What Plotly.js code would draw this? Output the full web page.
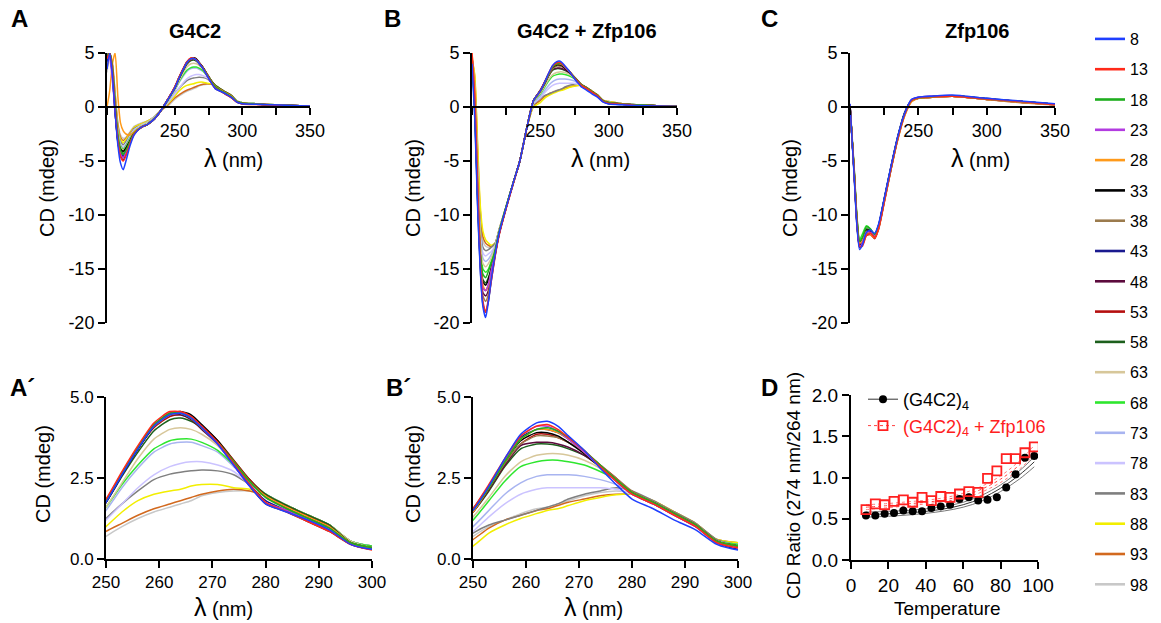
<!DOCTYPE html>
<html><head><meta charset="utf-8">
<script src="https://cdn.plot.ly/plotly-3.0.1.min.js"></script>
<style>html,body{margin:0;padding:0;background:#fff}#chart{width:1161px;height:623px}</style>
</head><body><div id="chart"></div>
<script>
// ---------- data ----------
const TEMPS = ['8','13','18','23','28','33','38','43','48','53','58','63','68','73','78','83','88','93','98'];
const COLORS = ['#1f3fff','#ff2a1a','#1fae1f','#b23be0','#ff9a1a','#000000','#9b7b4d','#1a1a8f','#5c0a3d','#b50f0f','#1c5f1c','#d7c79a','#2ee62e','#a8b4f0','#cbc3ff','#7f7f7f','#f2ee00','#d2691e','#c8c8c8'];

// wavelengths (nm) for panels A/A' and B/B'
const WL_AB = [200,202,204,206,208,210,212,214,217,220,225,230,235,240,245,250,253,256,259,262,264,266,268,271,274,277,280,284,288,292,296,300,310,320,335,350];

// G4C2 CD (mdeg), one row per temperature
const CD_G4C2 = [
 [3.5,5,3,-0.5,-3.5,-5.2,-5.8,-5,-3.6,-2.6,-1.9,-1.6,-1.1,-0.3,0.7, 1.75,2.6,3.4,4.1,4.45,4.5,4.35,4.05,3.55,2.9,2.25,1.7,1.45,1.2,0.9,0.45,0.3, 0.25,0.2,0.15,0.1],
 [4.5,5,3.5,0,-3,-4.6,-5.0,-4.5,-3.4,-2.5,-1.9,-1.6,-1.1,-0.3,0.75, 1.85,2.7,3.5,4.2,4.55,4.55,4.4,4.1,3.6,2.95,2.3,1.75,1.45,1.15,0.85,0.45,0.28, 0.22,0.18,0.12,0.08],
 [4.8,5,3.8,0.5,-2.6,-4.0,-4.4,-4.0,-3.2,-2.4,-1.9,-1.6,-1.1,-0.3,0.7, 1.8,2.65,3.45,4.15,4.5,4.5,4.35,4.05,3.6,3.0,2.4,1.9,1.55,1.25,0.95,0.5,0.35, 0.28,0.2,0.15,0.08],
 [5,4.5,2.5,-0.5,-3,-4.3,-4.7,-4.2,-3.3,-2.5,-1.9,-1.6,-1.1,-0.3,0.7, 1.8,2.65,3.45,4.15,4.5,4.5,4.35,4.05,3.55,2.9,2.25,1.75,1.5,1.2,0.9,0.45,0.3, 0.25,0.2,0.15,0.1],
 [0,1.5,4,5,1,-1.5,-2.2,-2.5,-2.6,-2.3,-1.9,-1.6,-1.1,-0.3,0.7, 1.8,2.65,3.45,4.1,4.45,4.5,4.35,4.05,3.6,3.0,2.4,1.95,1.6,1.3,1.0,0.5,0.35, 0.3,0.22,0.15,0.1],
 [4.7,4.8,3,-0.5,-3,-3.9,-4.1,-3.8,-3.1,-2.4,-1.9,-1.6,-1.1,-0.3,0.7, 1.75,2.6,3.4,4.1,4.5,4.55,4.45,4.15,3.65,3.0,2.4,1.95,1.6,1.3,1.0,0.5,0.35, 0.28,0.2,0.15,0.1],
 [4.5,5,3.5,0.2,-2.8,-3.8,-4.1,-3.8,-3.1,-2.4,-1.9,-1.6,-1.1,-0.3,0.7, 1.8,2.65,3.45,4.1,4.45,4.5,4.35,4.05,3.6,3.0,2.4,1.9,1.55,1.25,0.95,0.5,0.35, 0.28,0.2,0.15,0.1],
 [4.2,4.9,3.2,-0.2,-3.2,-4.2,-4.5,-4.1,-3.2,-2.4,-1.9,-1.6,-1.1,-0.3,0.7, 1.75,2.6,3.4,4.1,4.45,4.5,4.4,4.1,3.6,2.95,2.3,1.8,1.5,1.2,0.9,0.45,0.3, 0.25,0.2,0.15,0.1],
 [5,4.8,2.8,-0.5,-3.2,-4.5,-4.9,-4.4,-3.3,-2.5,-1.9,-1.6,-1.1,-0.3,0.7, 1.8,2.65,3.45,4.1,4.45,4.45,4.3,4.0,3.55,2.9,2.25,1.7,1.45,1.15,0.85,0.45,0.3, 0.25,0.2,0.15,0.1],
 [4.8,5,3.3,0,-3,-4.2,-4.6,-4.2,-3.3,-2.4,-1.9,-1.6,-1.1,-0.3,0.7, 1.75,2.6,3.4,4.05,4.4,4.45,4.35,4.1,3.65,3.05,2.45,1.95,1.6,1.3,1.0,0.5,0.35, 0.28,0.2,0.15,0.1],
 [4.6,5,3.4,0,-2.9,-4.0,-4.3,-4.0,-3.2,-2.4,-1.9,-1.6,-1.1,-0.3,0.7, 1.75,2.55,3.3,3.95,4.3,4.35,4.25,4.05,3.65,3.05,2.45,2.0,1.65,1.35,1.05,0.5,0.35, 0.28,0.2,0.15,0.1],
 [4.5,5,3.5,0.3,-2.7,-3.7,-4.0,-3.7,-3.0,-2.3,-1.8,-1.5,-1.0,-0.3,0.6, 1.6,2.35,3.1,3.7,4.0,4.05,4.0,3.85,3.5,2.95,2.4,2.0,1.65,1.35,1.05,0.55,0.35, 0.3,0.22,0.15,0.1],
 [4.5,5,3.6,0.5,-2.5,-3.6,-3.9,-3.6,-2.9,-2.3,-1.8,-1.5,-1.0,-0.3,0.6, 1.6,2.3,2.9,3.4,3.65,3.7,3.7,3.6,3.35,2.9,2.4,2.0,1.65,1.35,1.05,0.55,0.4, 0.3,0.22,0.15,0.1],
 [4.4,5,3.6,0.5,-2.4,-3.5,-3.8,-3.5,-2.8,-2.2,-1.8,-1.5,-1.0,-0.3,0.5, 1.5,2.2,2.8,3.3,3.55,3.6,3.6,3.5,3.3,2.85,2.35,2.0,1.65,1.35,1.05,0.55,0.4, 0.3,0.22,0.15,0.1],
 [4.3,5,3.7,0.6,-2.3,-3.4,-3.7,-3.4,-2.7,-2.1,-1.7,-1.4,-0.9,-0.3,0.4, 1.2,1.7,2.2,2.6,2.85,2.95,3.0,3.0,2.9,2.7,2.3,1.95,1.6,1.3,1.0,0.55,0.4, 0.3,0.22,0.15,0.1],
 [4.2,5,3.8,0.8,-2.1,-3.2,-3.5,-3.2,-2.6,-2.0,-1.7,-1.4,-0.9,-0.3,0.4, 1.25,1.7,2.1,2.45,2.62,2.68,2.72,2.75,2.72,2.6,2.3,2.0,1.65,1.35,1.05,0.55,0.4, 0.3,0.22,0.15,0.1],
 [4,5,3.8,1,-1.9,-3.0,-3.3,-3.0,-2.5,-1.9,-1.6,-1.3,-0.9,-0.3,0.3, 1.0,1.45,1.8,2.0,2.1,2.15,2.25,2.3,2.3,2.2,2.15,1.95,1.65,1.35,1.05,0.55,0.4, 0.3,0.22,0.15,0.1],
 [3.5,5,4,1.2,-1.6,-2.8,-3.1,-2.9,-2.4,-1.9,-1.6,-1.3,-0.9,-0.3,0.2, 0.85,1.1,1.35,1.55,1.7,1.8,1.9,2.0,2.1,2.15,2.1,1.95,1.65,1.35,1.05,0.55,0.4, 0.3,0.22,0.15,0.1],
 [3.2,4.8,4,1.4,-1.4,-2.6,-2.9,-2.8,-2.3,-1.8,-1.5,-1.3,-0.9,-0.3,0.1, 0.7,1.0,1.25,1.45,1.6,1.7,1.8,1.95,2.05,2.1,2.1,1.95,1.65,1.35,1.05,0.55,0.4, 0.3,0.22,0.15,0.1]
];

// G4C2 + Zfp106 CD (mdeg)
const CD_G4C2_ZFP = [
 [4,-1,-9,-15,-18.5,-19.5,-18,-16,-13.6,-11.6,-9.3,-7.1,-5.0,-2.0,0.6, 1.5,2.25,3.1,3.85,4.2,4.25,4.1,3.8,3.35,2.8,2.3,1.85,1.55,1.2,0.9,0.45,0.28, 0.2,0.15,0.1,0.05],
 [5,1,-7,-14,-18,-19,-17.8,-16.2,-13.8,-11.8,-9.4,-7.2,-5.0,-2.0,0.6, 1.55,2.3,3.1,3.8,4.1,4.15,4.0,3.75,3.35,2.85,2.4,2.0,1.7,1.35,1.0,0.5,0.35, 0.25,0.15,0.1,0.05],
 [4.5,0,-8,-13.5,-15.5,-15.8,-15.2,-14.5,-13.2,-11.5,-9.2,-7.1,-5.0,-2.0,0.6, 1.5,2.2,3.0,3.7,4.0,4.05,3.95,3.75,3.35,2.9,2.45,2.05,1.75,1.4,1.05,0.55,0.4, 0.28,0.2,0.12,0.06],
 [4.8,0.5,-7.5,-14,-16.8,-17,-16.4,-15.2,-13.4,-11.6,-9.3,-7.1,-5.0,-2.0,0.6, 1.5,2.25,3.05,3.8,4.1,4.1,3.95,3.7,3.3,2.85,2.4,2.0,1.7,1.35,1.0,0.5,0.35, 0.25,0.18,0.12,0.06],
 [5,2,-6,-13,-16.5,-17,-16.5,-15.3,-13.5,-11.6,-9.3,-7.1,-5.0,-2.0,0.6, 1.45,2.2,3.0,3.7,4.0,4.0,3.9,3.7,3.3,2.85,2.45,2.05,1.75,1.4,1.05,0.55,0.4, 0.28,0.2,0.12,0.06],
 [4.6,0.5,-7.5,-13.5,-16.2,-16.5,-16,-15,-13.4,-11.6,-9.3,-7.1,-5.0,-2.0,0.6, 1.55,2.25,3.0,3.65,3.9,3.9,3.8,3.6,3.25,2.85,2.45,2.05,1.75,1.4,1.05,0.55,0.4, 0.28,0.2,0.12,0.06],
 [4.7,0.8,-7.5,-14,-17.5,-18,-17.3,-15.8,-13.6,-11.7,-9.3,-7.1,-5.0,-2.0,0.6, 1.5,2.2,2.95,3.55,3.8,3.8,3.75,3.6,3.3,2.9,2.5,2.1,1.75,1.4,1.05,0.55,0.4, 0.3,0.2,0.12,0.06],
 [4.4,-0.5,-8.5,-14.8,-18.3,-19,-18,-16.2,-13.7,-11.7,-9.3,-7.1,-5.0,-2.0,0.6, 1.5,2.25,3.05,3.75,4.0,4.0,3.9,3.7,3.3,2.85,2.4,2.0,1.7,1.35,1.0,0.5,0.3, 0.22,0.15,0.1,0.05],
 [4.5,0,-8,-14.2,-17.2,-17.5,-17,-15.6,-13.6,-11.7,-9.3,-7.1,-5.0,-2.0,0.6, 1.45,2.15,2.9,3.5,3.6,3.6,3.55,3.45,3.2,2.85,2.45,2.05,1.75,1.4,1.05,0.55,0.4, 0.28,0.2,0.12,0.06],
 [4.6,0.5,-7.5,-14,-16.7,-17,-16.5,-15.3,-13.5,-11.6,-9.3,-7.1,-5.0,-2.0,0.6, 1.45,2.15,2.9,3.55,3.85,3.85,3.75,3.6,3.3,2.9,2.5,2.05,1.75,1.4,1.05,0.55,0.4, 0.28,0.2,0.12,0.06],
 [4.6,0.8,-7,-13.5,-16,-16.3,-15.8,-15,-13.4,-11.6,-9.3,-7.1,-5.0,-2.0,0.6, 1.45,2.1,2.85,3.4,3.55,3.55,3.5,3.4,3.2,2.85,2.45,2.05,1.75,1.4,1.05,0.55,0.4, 0.28,0.2,0.12,0.06],
 [4.6,1,-6.5,-12.5,-14.5,-14.8,-14.5,-14,-13,-11.5,-9.2,-7.1,-5.0,-2.0,0.5, 1.3,1.9,2.55,3.0,3.2,3.25,3.25,3.2,3.05,2.8,2.45,2.05,1.75,1.4,1.05,0.55,0.4, 0.3,0.2,0.12,0.06],
 [4.6,1.2,-6.5,-12.5,-15,-15.3,-15,-14.3,-13.1,-11.5,-9.2,-7.1,-5.0,-2.0,0.5, 1.2,1.8,2.4,2.85,3.0,3.05,3.05,3.0,2.9,2.7,2.45,2.05,1.75,1.4,1.05,0.55,0.45, 0.3,0.2,0.12,0.06],
 [4.5,1.5,-6,-12,-14,-14.3,-14.1,-13.7,-12.9,-11.4,-9.2,-7.1,-5.0,-2.0,0.4, 1.0,1.5,2.0,2.35,2.55,2.6,2.6,2.6,2.55,2.45,2.3,2.05,1.75,1.4,1.05,0.55,0.45, 0.3,0.2,0.12,0.06],
 [4.5,1.8,-5.5,-11.5,-13.5,-13.8,-13.6,-13.4,-12.8,-11.4,-9.2,-7.1,-5.0,-2.0,0.3, 0.85,1.3,1.7,2.0,2.15,2.2,2.2,2.2,2.2,2.2,2.15,2.0,1.75,1.4,1.05,0.55,0.45, 0.3,0.2,0.12,0.06],
 [4.5,2,-5,-11,-13,-13.3,-13.2,-13,-12.6,-11.3,-9.2,-7.1,-5.0,-2.0,0.2, 0.8,1.05,1.2,1.35,1.5,1.6,1.7,1.85,2.0,2.1,2.2,2.1,1.8,1.45,1.1,0.6,0.45, 0.3,0.2,0.12,0.06],
 [4.5,3,-3,-9,-11.5,-12.3,-12.6,-12.8,-12.6,-11.3,-9.2,-7.1,-5.0,-2.0,0.0, 0.4,0.8,1.05,1.25,1.4,1.5,1.55,1.65,1.8,1.9,1.98,2.0,1.8,1.45,1.1,0.6,0.5, 0.3,0.2,0.12,0.06],
 [4.5,2.8,-3.5,-9.5,-12,-12.6,-12.8,-12.9,-12.6,-11.3,-9.2,-7.1,-5.0,-2.0,0.1, 0.6,0.95,1.2,1.35,1.5,1.55,1.65,1.75,1.85,1.95,2.0,2.0,1.8,1.45,1.1,0.6,0.5, 0.3,0.2,0.12,0.06],
 [4.5,2.5,-4,-10,-12.4,-12.9,-13,-13,-12.7,-11.3,-9.2,-7.1,-5.0,-2.0,0.1, 0.7,1.0,1.2,1.4,1.55,1.6,1.7,1.8,1.95,2.05,2.1,2.05,1.8,1.45,1.1,0.6,0.5, 0.3,0.2,0.12,0.06]
];

// wavelengths (nm) for panel C
const WL_C = [200,203,205,207,209,212,215,218,221,225,230,235,240,245,250,260,275,300,325,350];
// Zfp106 CD (mdeg)
const CD_ZFP = [
 [0.3,-6.3,-10.9,-13.2,-12.8,-11.6,-11.4,-11.7,-10.8,-8.5,-5.5,-2.7,-0.6,0.7,0.9,1.0,1.1,0.8,0.55,0.3],
 [0.2,-5.9,-10.5,-12.9,-12.9,-11.9,-11.7,-12.1,-11.2,-8.8,-5.7,-2.9,-0.7,0.6,0.85,0.95,1.0,0.75,0.5,0.2],
 [0.1,-5.8,-10.2,-12.4,-12.1,-11.1,-11.3,-11.8,-11.0,-8.6,-5.6,-2.8,-0.6,0.6,0.85,0.95,1.05,0.75,0.5,0.25],
 [0,-6.1,-10.6,-12.9,-12.6,-11.6,-11.6,-11.9,-11.0,-8.6,-5.6,-2.8,-0.6,0.65,0.9,1.0,1.05,0.75,0.5,0.25],
 [0,-5.7,-10.3,-12.6,-12.4,-11.5,-11.8,-12.1,-11.2,-8.8,-5.8,-3.0,-0.8,0.5,0.8,0.9,1.0,0.7,0.45,0.2],
 [0.2,-6.0,-10.6,-12.8,-12.5,-11.4,-11.5,-11.9,-11.0,-8.6,-5.6,-2.8,-0.6,0.6,0.85,0.95,1.05,0.75,0.5,0.25],
 [0.1,-5.9,-10.4,-12.7,-12.6,-11.7,-11.7,-12.0,-11.1,-8.7,-5.7,-2.9,-0.7,0.55,0.8,0.9,1.0,0.7,0.45,0.2],
 [0.2,-6.2,-10.8,-13.0,-12.7,-11.6,-11.5,-11.8,-10.9,-8.5,-5.5,-2.7,-0.5,0.65,0.9,1.0,1.05,0.8,0.5,0.25],
 [0.1,-6.0,-10.5,-12.8,-12.6,-11.6,-11.6,-11.9,-11.0,-8.6,-5.6,-2.8,-0.6,0.6,0.85,0.95,1.05,0.75,0.5,0.25],
 [0.2,-5.9,-10.4,-12.8,-12.8,-11.9,-11.8,-12.2,-11.3,-8.9,-5.8,-2.9,-0.7,0.55,0.8,0.9,1.0,0.7,0.45,0.2],
 [0,-5.8,-10.3,-12.5,-12.3,-11.3,-11.4,-11.8,-11.0,-8.6,-5.6,-2.8,-0.6,0.6,0.85,0.95,1.05,0.75,0.5,0.25],
 [0.1,-5.9,-10.4,-12.6,-12.3,-11.4,-11.5,-11.9,-11.0,-8.7,-5.7,-2.9,-0.7,0.55,0.8,0.9,1.0,0.7,0.45,0.2],
 [0,-5.6,-10.0,-12.3,-11.8,-11.0,-11.3,-11.9,-11.1,-8.7,-5.7,-2.8,-0.6,0.6,0.85,0.95,1.0,0.75,0.5,0.25],
 [0.1,-6.0,-10.5,-12.7,-12.4,-11.5,-11.6,-11.9,-11.0,-8.6,-5.6,-2.8,-0.6,0.6,0.85,0.95,1.05,0.75,0.5,0.25],
 [0.1,-6.0,-10.5,-12.8,-12.5,-11.5,-11.5,-11.8,-10.9,-8.5,-5.5,-2.7,-0.6,0.6,0.85,0.95,1.05,0.75,0.5,0.25],
 [0.2,-5.5,-10.0,-12.4,-12.3,-11.6,-11.7,-12.0,-11.1,-8.7,-5.7,-2.9,-0.7,0.55,0.8,0.9,1.0,0.7,0.45,0.2],
 [0,-5.8,-10.3,-12.6,-12.4,-11.5,-11.6,-11.9,-11.0,-8.6,-5.6,-2.8,-0.6,0.6,0.85,0.95,1.05,0.75,0.5,0.25],
 [0.1,-5.9,-10.4,-12.9,-12.7,-11.7,-11.8,-12.1,-11.2,-8.8,-5.8,-3.0,-0.8,0.5,0.8,0.9,1.0,0.7,0.4,0.2],
 [0,-5.8,-10.3,-12.6,-12.4,-11.5,-11.6,-12.0,-11.1,-8.7,-5.7,-2.9,-0.7,0.55,0.8,0.9,1.0,0.7,0.45,0.2]
];

// panel D: CD ratio (274 nm / 264 nm) vs temperature
const TEMP_D = [8,13,18,23,28,33,38,43,48,53,58,63,68,73,78,83,88,93,98];
const RATIO_G4C2 = [0.54,0.54,0.56,0.57,0.60,0.59,0.59,0.63,0.65,0.67,0.74,0.76,0.72,0.73,0.76,0.88,1.04,1.24,1.26];
const RATIO_G4C2_ZFP = [0.61,0.68,0.67,0.71,0.73,0.70,0.76,0.72,0.77,0.76,0.80,0.83,0.82,0.99,1.08,1.23,1.23,1.30,1.37];
const FIT_T = [8,20,30,40,50,60,70,80,90,98];
const FIT_G4C2 = [0.55,0.56,0.57,0.59,0.62,0.67,0.75,0.87,1.03,1.19];
const FIT_G4C2_LO = [0.52,0.53,0.545,0.565,0.595,0.64,0.715,0.83,0.98,1.13];
const FIT_G4C2_HI = [0.58,0.59,0.60,0.62,0.65,0.70,0.785,0.91,1.08,1.25];
const FIT_ZFP = [0.64,0.66,0.68,0.70,0.73,0.78,0.86,0.98,1.15,1.33];
const FIT_ZFP_LO = [0.61,0.635,0.655,0.68,0.71,0.75,0.825,0.94,1.10,1.27];
const FIT_ZFP_HI = [0.67,0.685,0.705,0.725,0.755,0.81,0.895,1.02,1.20,1.39];

// ---------- layout helpers ----------
const W = 1161, H = 623;
const fx = p => p / W;
const fy = p => 1 - p / H;
const FONT = 'Arial, "Liberation Sans", Helvetica, sans-serif';

const traces = [];
// legend entries (one per temperature)
TEMPS.forEach((t, i) => traces.push({
  x: [null], y: [null], type: 'scatter', mode: 'lines', name: t, legendgroup: t,
  line: {color: COLORS[i], width: 2.6}, xaxis: 'x', yaxis: 'y', hoverinfo: 'skip'
}));
// spectra, high temperatures drawn first so low temperatures sit on top
for (let i = TEMPS.length - 1; i >= 0; i--) {
  const base = {type: 'scatter', mode: 'lines', legendgroup: TEMPS[i], showlegend: false,
    name: TEMPS[i] + ' \u00B0C', line: {color: COLORS[i], width: 1.5, shape: 'spline', smoothing: 0.6}};
  traces.push(Object.assign({}, base, {x: WL_AB, y: CD_G4C2[i], xaxis: 'x', yaxis: 'y'}));
  traces.push(Object.assign({}, base, {x: WL_AB, y: CD_G4C2_ZFP[i], xaxis: 'x2', yaxis: 'y2'}));
  traces.push(Object.assign({}, base, {x: WL_C, y: CD_ZFP[i], xaxis: 'x3', yaxis: 'y3'}));
  traces.push(Object.assign({}, base, {x: WL_AB, y: CD_G4C2[i], xaxis: 'x4', yaxis: 'y4'}));
  traces.push(Object.assign({}, base, {x: WL_AB, y: CD_G4C2_ZFP[i], xaxis: 'x5', yaxis: 'y5'}));
}
// panel D fits
const fitLine = (y, color, width, dash) => ({x: FIT_T, y: y, type: 'scatter', mode: 'lines', showlegend: false,
  hoverinfo: 'skip', line: {color: color, width: width, dash: dash, shape: 'spline'}, xaxis: 'x6', yaxis: 'y6'});
traces.push(fitLine(FIT_G4C2_LO, '#666', 0.9, 'solid'));
traces.push(fitLine(FIT_G4C2_HI, '#666', 0.9, 'solid'));
traces.push(fitLine(FIT_G4C2, '#333', 1, 'solid'));
traces.push(fitLine(FIT_ZFP_LO, '#ff7a7a', 1, 'dot'));
traces.push(fitLine(FIT_ZFP_HI, '#ff7a7a', 1, 'dot'));
traces.push(fitLine(FIT_ZFP, '#ff4040', 1, 'dot'));
// panel D legend entries (symbol with fit line)
traces.push({x: [null], y: [null], type: 'scatter', mode: 'lines+markers', name: '(G4C2)<sub>4</sub>',
  legend: 'legend2', legendgroup: 'dG', line: {color: '#333', width: 1}, marker: {symbol: 'circle', size: 8, color: '#000'},
  xaxis: 'x6', yaxis: 'y6', hoverinfo: 'skip'});
traces.push({x: [null], y: [null], type: 'scatter', mode: 'lines+markers',
  name: '<span style="color:#ff2020">(G4C2)<sub>4</sub> + Zfp106</span>', legend: 'legend2', legendgroup: 'dZ',
  line: {color: '#ff4040', width: 1, dash: 'dot'}, marker: {symbol: 'square-open', size: 9, color: '#ff2020', line: {width: 1.8}},
  xaxis: 'x6', yaxis: 'y6', hoverinfo: 'skip'});
traces.push({x: TEMP_D, y: RATIO_G4C2, type: 'scatter', mode: 'markers', name: '(G4C2)4', showlegend: false,
  legendgroup: 'dG', marker: {symbol: 'circle', size: 8, color: '#000'}, xaxis: 'x6', yaxis: 'y6'});
traces.push({x: TEMP_D, y: RATIO_G4C2_ZFP, type: 'scatter', mode: 'markers', name: '(G4C2)4 + Zfp106', showlegend: false,
  legendgroup: 'dZ', marker: {symbol: 'square-open', size: 9, color: '#ff2020', line: {width: 1.8}}, xaxis: 'x6', yaxis: 'y6'});

const axBase = {showgrid: false, zeroline: false, showline: true, linecolor: '#000', linewidth: 2,
  ticks: 'outside', ticklen: 7, tickwidth: 2, tickcolor: '#000', fixedrange: true,
  tickfont: {family: FONT, size: 18, color: '#000'}};
const ax = o => Object.assign({}, axBase, o);

const wlTicks = {tickmode: 'array', tickvals: [200,225,250,275,300,325,350], ticktext: ['','','250','','300','','350']};
const cdTicks = {tickmode: 'array', tickvals: [-20,-15,-10,-5,0,5], ticktext: ['-20','-15','-10','-5','0','5']};
const topY = [fy(323), fy(53)];
const botY = [fy(559), fy(397)];
const zeroPos = fy(107);
const zoomTick = {tickfont: {family: FONT, size: 17, color: '#000'}};

const layout = {
  width: W, height: H, margin: {l: 0, r: 0, t: 0, b: 0},
  paper_bgcolor: '#fff', plot_bgcolor: 'rgba(0,0,0,0)',
  font: {family: FONT, color: '#000'},
  showlegend: true,
  xaxis: ax(Object.assign({domain: [fx(107), fx(310)], range: [200, 350], anchor: 'free', position: zeroPos}, wlTicks)),
  yaxis: ax(Object.assign({domain: topY, range: [-20, 5], anchor: 'x'}, cdTicks)),
  xaxis2: ax(Object.assign({domain: [fx(472), fx(677)], range: [200, 350], anchor: 'free', position: zeroPos}, wlTicks)),
  yaxis2: ax(Object.assign({domain: topY, range: [-20, 5], anchor: 'x2'}, cdTicks)),
  xaxis3: ax(Object.assign({domain: [fx(850), fx(1055)], range: [200, 350], anchor: 'free', position: zeroPos}, wlTicks)),
  yaxis3: ax(Object.assign({domain: topY, range: [-20, 5], anchor: 'x3'}, cdTicks)),
  xaxis4: ax(Object.assign({domain: [fx(106), fx(372)], range: [250, 300], anchor: 'y4', tickmode: 'linear', tick0: 250, dtick: 10}, zoomTick)),
  yaxis4: ax(Object.assign({domain: botY, range: [0, 5], anchor: 'x4', tickmode: 'array', tickvals: [0, 2.5, 5], ticktext: ['0.0','2.5','5.0']}, zoomTick)),
  xaxis5: ax(Object.assign({domain: [fx(473), fx(738)], range: [250, 300], anchor: 'y5', tickmode: 'linear', tick0: 250, dtick: 10}, zoomTick)),
  yaxis5: ax(Object.assign({domain: botY, range: [0, 5], anchor: 'x5', tickmode: 'array', tickvals: [0, 2.5, 5], ticktext: ['0.0','2.5','5.0']}, zoomTick)),
  xaxis6: ax({domain: [fx(851), fx(1038)], range: [0, 100], anchor: 'y6', tickmode: 'linear', tick0: 0, dtick: 20,
    tickfont: {family: FONT, size: 19, color: '#000'}}),
  yaxis6: ax({domain: [fy(560), fy(395)], range: [0, 2], anchor: 'x6', tickmode: 'array', tickvals: [0, 0.5, 1, 1.5, 2],
    ticktext: ['0.0','0.5','1.0','1.5','2.0'], tickfont: {family: FONT, size: 19, color: '#000'}}),
  legend: {x: fx(1090), xanchor: 'left', y: fy(22), yanchor: 'top', traceorder: 'grouped', tracegroupgap: 6.5,
    itemwidth: 30, bgcolor: 'rgba(0,0,0,0)', font: {family: FONT, size: 16, color: '#000'}, itemclick: false, itemdoubleclick: false},
  legend2: {x: fx(863), xanchor: 'left', y: fy(381), yanchor: 'top', bgcolor: 'rgba(0,0,0,0)', tracegroupgap: 0,
    font: {family: FONT, size: 18, color: '#000'}, itemclick: false, itemdoubleclick: false},
  annotations: []
};

const A = layout.annotations;
const note = (text, px, py, o) => A.push(Object.assign({text: text, x: fx(px), y: fy(py), xref: 'paper', yref: 'paper',
  showarrow: false, xanchor: 'center', yanchor: 'middle', font: {family: FONT, size: 20, color: '#000'}}, o || {}));
// panel letters
[['A', 19, 19], ['B', 392, 19], ['C', 769, 19], ['A\u00B4', 22, 387], ['B\u00B4', 398, 387], ['D', 769, 387]]
  .forEach(l => note('<b>' + l[0] + '</b>', l[1], l[2], {font: {family: FONT, size: 24, color: '#000'}}));
// panel titles
note('<b>G4C2</b>', 195, 31); note('<b>G4C2 + Zfp106</b>', 587, 31); note('<b>Zfp106</b>', 977, 31);
// axis titles
const lam = '<span style="font-size:25px">\u03BB</span> (nm)';
[[233, 158], [600, 158], [980, 158], [223, 607], [593, 607]].forEach(p => note(lam, p[0], p[1]));
note('Temperature', 947, 608, {font: {family: FONT, size: 19, color: '#000'}});
[[47, 188], [413, 188], [790, 188], [43, 474], [413, 474]].forEach(p => note('CD (mdeg)', p[0], p[1], {textangle: -90}));
note('CD Ratio (274 nm/264 nm)', 793, 486, {textangle: -90, font: {family: FONT, size: 19, color: '#000'}});

Plotly.newPlot('chart', traces, layout, {displayModeBar: false, responsive: false});
</script></body></html>
